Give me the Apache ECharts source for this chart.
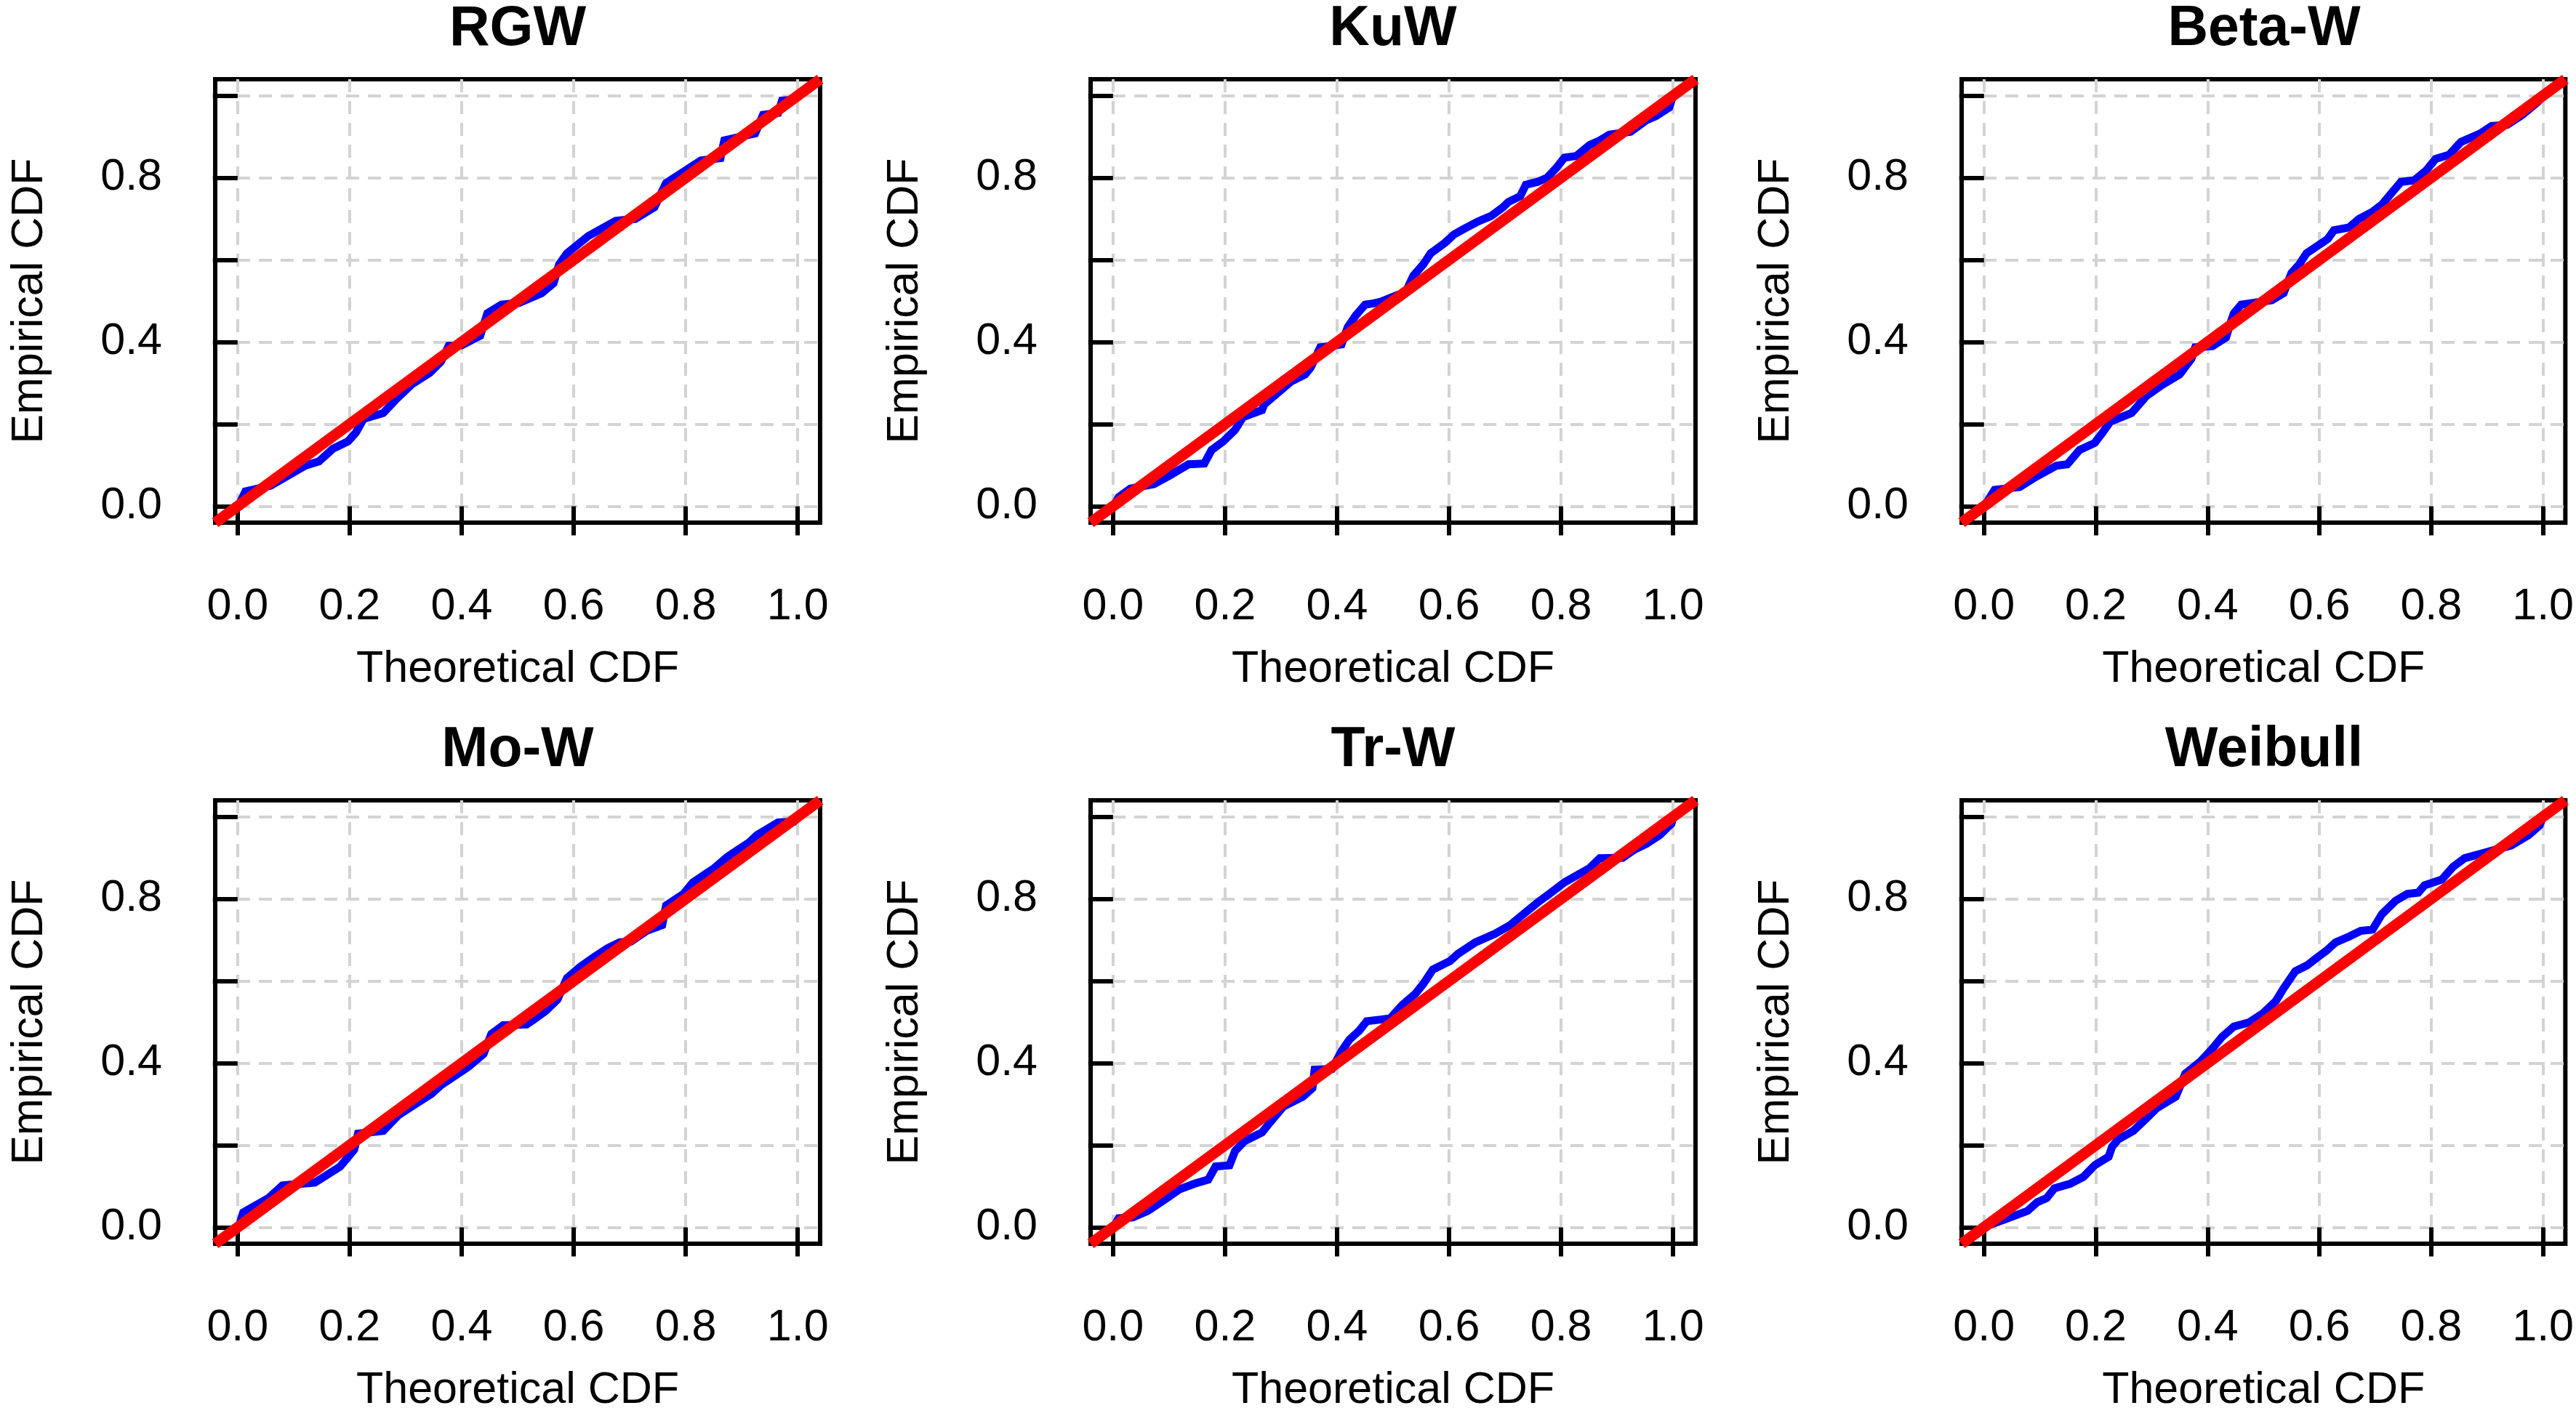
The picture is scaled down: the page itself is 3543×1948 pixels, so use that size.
<!DOCTYPE html>
<html>
<head>
<meta charset="utf-8">
<title>P-P plots</title>
<script src="https://cdn.jsdelivr.net/npm/echarts@6/dist/echarts.min.js"></script>
<style>
  html, body { margin: 0; padding: 0; background: #fff; }
  #chart { width: 3543px; height: 1948px; }
</style>
</head>
<body>
<div id="chart"></div>
<script>
// ---- data (theoretical CDF vs empirical CDF) ----
const panelNames = ["RGW", "KuW", "Beta-W", "Mo-W", "Tr-W", "Weibull"];

const rgwTheo = [0.003, 0.014, 0.059, 0.121, 0.145, 0.17, 0.197, 0.211, 0.225, 0.26, 0.284, 0.311, 0.343, 0.363, 0.377, 0.4, 0.433, 0.446, 0.471, 0.502, 0.543, 0.564, 0.574, 0.588, 0.626, 0.654, 0.675, 0.71, 0.744, 0.765, 0.792, 0.827, 0.862, 0.869, 0.924, 0.938, 0.965, 0.972, 0.993, 1];
const rgwEmp  = [0.005, 0.036, 0.05, 0.099, 0.109, 0.14, 0.158, 0.179, 0.213, 0.227, 0.262, 0.297, 0.325, 0.352, 0.391, 0.392, 0.415, 0.47, 0.491, 0.495, 0.519, 0.543, 0.589, 0.616, 0.658, 0.679, 0.695, 0.70, 0.728, 0.787, 0.811, 0.842, 0.848, 0.891, 0.908, 0.953, 0.958, 0.988, 0.99, 1];

const kuwTheo = [0.003, 0.01, 0.031, 0.073, 0.1, 0.135, 0.163, 0.176, 0.197, 0.218, 0.232, 0.266, 0.27, 0.294, 0.318, 0.343, 0.353, 0.37, 0.408, 0.419, 0.433, 0.45, 0.465, 0.478, 0.509, 0.522, 0.536, 0.554, 0.567, 0.592, 0.609, 0.626, 0.651, 0.675, 0.696, 0.706, 0.727, 0.737, 0.758, 0.775, 0.792, 0.806, 0.827, 0.851, 0.869, 0.886, 0.924, 0.952, 0.969, 0.993, 1];
const kuwEmp  = [0.005, 0.022, 0.043, 0.054, 0.074, 0.102, 0.104, 0.137, 0.158, 0.186, 0.217, 0.234, 0.248, 0.276, 0.304, 0.321, 0.338, 0.387, 0.394, 0.436, 0.464, 0.491, 0.494, 0.498, 0.515, 0.52, 0.561, 0.589, 0.616, 0.641, 0.662, 0.675, 0.693, 0.707, 0.728, 0.741, 0.755, 0.783, 0.79, 0.80, 0.825, 0.849, 0.853, 0.88, 0.891, 0.905, 0.912, 0.94, 0.95, 0.971, 1];

const betaTheo = [0.003, 0.019, 0.064, 0.092, 0.13, 0.149, 0.171, 0.198, 0.212, 0.226, 0.264, 0.291, 0.316, 0.35, 0.371, 0.378, 0.409, 0.433, 0.44, 0.447, 0.46, 0.515, 0.536, 0.55, 0.564, 0.577, 0.615, 0.626, 0.653, 0.671, 0.695, 0.712, 0.733, 0.746, 0.77, 0.791, 0.808, 0.832, 0.853, 0.888, 0.908, 0.936, 0.963, 0.991, 1];
const betaEmp  = [0.005, 0.04, 0.047, 0.071, 0.099, 0.102, 0.137, 0.154, 0.179, 0.206, 0.227, 0.269, 0.293, 0.321, 0.359, 0.387, 0.39, 0.411, 0.443, 0.47, 0.491, 0.502, 0.519, 0.568, 0.589, 0.616, 0.651, 0.672, 0.679, 0.70, 0.717, 0.735, 0.769, 0.79, 0.794, 0.818, 0.846, 0.856, 0.887, 0.908, 0.926, 0.929, 0.953, 0.985, 1];

const mowTheo = [0.003, 0.01, 0.055, 0.08, 0.138, 0.183, 0.208, 0.215, 0.26, 0.287, 0.322, 0.346, 0.363, 0.412, 0.439, 0.453, 0.474, 0.516, 0.529, 0.55, 0.571, 0.588, 0.612, 0.637, 0.661, 0.682, 0.702, 0.73, 0.758, 0.765, 0.796, 0.813, 0.851, 0.875, 0.913, 0.927, 0.965, 0.993, 1];
const mowEmp  = [0.005, 0.036, 0.071, 0.102, 0.109, 0.148, 0.189, 0.228, 0.235, 0.273, 0.304, 0.325, 0.346, 0.391, 0.422, 0.471, 0.492, 0.494, 0.506, 0.527, 0.555, 0.607, 0.635, 0.659, 0.68, 0.694, 0.696, 0.722, 0.736, 0.784, 0.812, 0.84, 0.875, 0.903, 0.937, 0.955, 0.986, 0.988, 1];

const trwTheo = [0.003, 0.01, 0.035, 0.062, 0.093, 0.118, 0.145, 0.17, 0.183, 0.208, 0.218, 0.235, 0.266, 0.28, 0.304, 0.339, 0.356, 0.36, 0.391, 0.408, 0.422, 0.439, 0.453, 0.478, 0.495, 0.516, 0.54, 0.554, 0.571, 0.602, 0.616, 0.647, 0.682, 0.709, 0.74, 0.758, 0.779, 0.806, 0.851, 0.869, 0.91, 0.931, 0.952, 0.976, 0.997, 1];
const trwEmp  = [0.005, 0.022, 0.024, 0.04, 0.068, 0.092, 0.106, 0.116, 0.148, 0.151, 0.186, 0.21, 0.231, 0.255, 0.294, 0.318, 0.339, 0.384, 0.386, 0.429, 0.457, 0.478, 0.502, 0.506, 0.509, 0.541, 0.569, 0.593, 0.628, 0.649, 0.666, 0.694, 0.715, 0.736, 0.771, 0.791, 0.812, 0.84, 0.875, 0.899, 0.90, 0.92, 0.934, 0.955, 0.983, 1];

const weiTheo = [0.004, 0.037, 0.078, 0.095, 0.112, 0.126, 0.154, 0.178, 0.198, 0.223, 0.229, 0.24, 0.267, 0.288, 0.309, 0.343, 0.36, 0.388, 0.409, 0.426, 0.447, 0.474, 0.498, 0.522, 0.536, 0.557, 0.578, 0.595, 0.612, 0.629, 0.653, 0.674, 0.695, 0.712, 0.736, 0.757, 0.777, 0.788, 0.819, 0.839, 0.86, 0.943, 0.974, 0.994, 1];
const weiEmp  = [0.003, 0.019, 0.04, 0.061, 0.071, 0.095, 0.106, 0.123, 0.151, 0.172, 0.196, 0.214, 0.235, 0.262, 0.29, 0.318, 0.374, 0.405, 0.436, 0.464, 0.489, 0.499, 0.52, 0.551, 0.582, 0.624, 0.638, 0.656, 0.673, 0.694, 0.708, 0.722, 0.725, 0.763, 0.795, 0.812, 0.815, 0.833, 0.847, 0.878, 0.899, 0.93, 0.955, 0.979, 1];

const theoSets = [rgwTheo, kuwTheo, betaTheo, mowTheo, trwTheo, weiTheo];
const empSets  = [rgwEmp, kuwEmp, betaEmp, mowEmp, trwEmp, weiEmp];

const axisRange   = [-0.04, 1.04];          // R's 4% padding around [0, 1]
const refLine     = [-0.04, 1.04];          // y = x reference
const tickValues  = [0, 0.2, 0.4, 0.6, 0.8, 1.0];
const xLabelVals  = [0, 0.2, 0.4, 0.6, 0.8, 1.0];
const yLabelVals  = [0, 0.4, 0.8];

// ---- layout (pixels) ----
const FONT = '"Liberation Sans", Arial, sans-serif';
const colLeft = [296, 1500, 2698];
const rowTop = [109, 1101];
const boxW = 832, boxH = 610;
const titleY = [41, 1033];

const chart = echarts.init(document.getElementById("chart"), null, { renderer: "canvas" });

const grids = [], xAxes = [], yAxes = [], series = [], graphics = [];
panelNames.forEach((name, i) => {
  const col = i % 3, row = Math.floor(i / 3);
  grids.push({
    left: colLeft[col], top: rowTop[row], width: boxW, height: boxH,
    show: true, borderColor: "#000", borderWidth: 6, backgroundColor: "transparent",
  });
  const labelStyle = { fontSize: 61, color: "#000", fontFamily: FONT };
  const split = { show: true, lineStyle: { color: "#D3D3D3", width: 4, type: [18, 12] } };
  xAxes.push({
    gridIndex: i, type: "value", min: axisRange[0], max: axisRange[1],
    axisLine: { show: false },
    axisTick: { show: true, length: 40, lineStyle: { color: "#000", width: 6 }, customValues: tickValues },
    axisLabel: Object.assign({ customValues: xLabelVals, margin: 86, formatter: v => v.toFixed(1) }, labelStyle),
    splitLine: split,
    name: "Theoretical CDF", nameLocation: "middle", nameGap: 172,
    nameTextStyle: { fontSize: 61, color: "#000", fontFamily: FONT },
  });
  yAxes.push({
    gridIndex: i, type: "value", min: axisRange[0], max: axisRange[1],
    axisLine: { show: false },
    axisTick: { show: true, length: 34, lineStyle: { color: "#000", width: 6 }, customValues: tickValues },
    axisLabel: Object.assign({ customValues: yLabelVals, margin: 73, formatter: v => v.toFixed(1) }, labelStyle),
    splitLine: split,
    name: "Empirical CDF", nameLocation: "middle", nameGap: 224,
    nameTextStyle: { fontSize: 61, color: "#000", fontFamily: FONT },
  });
  series.push({
    type: "line", xAxisIndex: i, yAxisIndex: i, showSymbol: false, clip: true,
    lineStyle: { color: "#0000FF", width: 11, join: "miter" },
    data: theoSets[i].map((t, k) => [t, empSets[i][k]]),
  });
  series.push({
    type: "line", xAxisIndex: i, yAxisIndex: i, showSymbol: false, clip: true,
    lineStyle: { color: "#FF0000", width: 15 },
    data: refLine.map(v => [v, v]),
  });
  graphics.push({
    type: "text", x: colLeft[col] + boxW / 2, y: titleY[row],
    style: { text: name, fill: "#000", font: "bold 77px " + FONT, align: "center", verticalAlign: "middle" },
  });
});

chart.setOption({
  animation: false,
  backgroundColor: "#fff",
  grid: grids, xAxis: xAxes, yAxis: yAxes, series,
  graphic: graphics,
});
</script>
</body>
</html>
